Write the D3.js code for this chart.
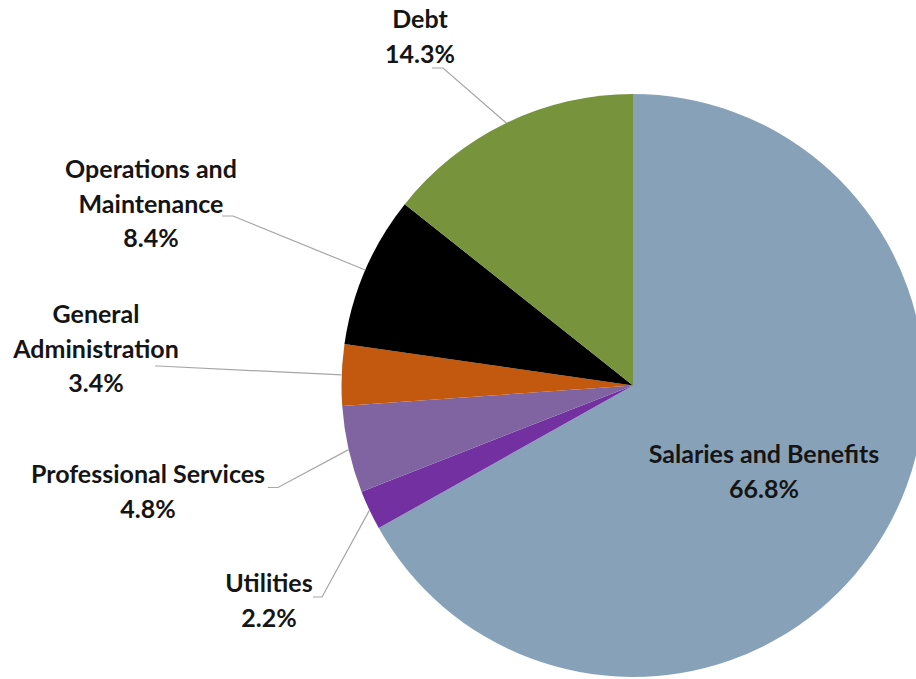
<!DOCTYPE html>
<html>
<head>
<meta charset="utf-8">
<script src="https://cdn.jsdelivr.net/npm/d3@7"></script>
<style>
  html, body { margin: 0; padding: 0; background: #ffffff; }
  svg { display: block; }
  text { font-family: Lato, "Open Sans", sans-serif; font-weight: 700; fill: #151515; }
</style>
</head>
<body>
<svg id="chart" width="916" height="679"></svg>
<script>
// ---- data ----
const categories = ["Salaries and Benefits", "Utilities", "Professional Services", "General Administration", "Operations and Maintenance", "Debt"];
const values = [66.8, 2.2, 4.8, 3.4, 8.4, 14.3];
const valueLabels = ["66.8%", "2.2%", "4.8%", "3.4%", "8.4%", "14.3%"];
const labelLines = [
  ["Salaries and Benefits"],
  ["Utilities"],
  ["Professional Services"],
  ["General", "Administration"],
  ["Operations and", "Maintenance"],
  ["Debt"]
];
const colors = ["#87A2B8", "#7330A0", "#8064A2", "#C2590E", "#000000", "#77933C"];

// ---- layout (positions, not data) ----
const W = 916, H = 679;
const cx = 633, cy = 385.5, R = 291.5;
const lineH = 34.5;
// label text: center x, baseline of first line; leader: elbow end (text side) and elbow start
const labelLayout = [
  { x: 764, y: 463, leader: null },
  { x: 269, y: 592, leader: { x0: 313, x1: 322, y: 597 } },
  { x: 148, y: 483, leader: { x0: 268, x1: 278, y: 487.5 } },
  { x: 96,  y: 323, leader: { x0: 155, x1: 158, y: 366 } },
  { x: 151, y: 178, leader: { x0: 222, x1: 233, y: 216 } },
  { x: 420, y: 28,  leader: { x0: 432, x1: 443, y: 68 } }
];

const svg = d3.select("#chart");
const data = categories.map((c, i) => ({ name: c, value: values[i], i }));

const pie = d3.pie().value(d => d.value).sort(null).startAngle(0).endAngle(2 * Math.PI);
const arcs = pie(data);
const arc = d3.arc().innerRadius(0).outerRadius(R);

const g = svg.append("g").attr("transform", `translate(${cx},${cy})`);
g.selectAll("path.slice")
  .data(arcs)
  .join("path")
  .attr("class", "slice")
  .attr("d", arc)
  .attr("fill", d => colors[d.data.i]);

// leader lines
const edgePoint = a => {
  const m = (a.startAngle + a.endAngle) / 2;
  return [cx + R * Math.sin(m), cy - R * Math.cos(m)];
};
arcs.forEach(a => {
  const L = labelLayout[a.data.i].leader;
  if (!L) return;
  const [ex, ey] = edgePoint(a);
  svg.append("polyline")
    .attr("points", `${L.x0},${L.y} ${L.x1},${L.y} ${ex},${ey}`)
    .attr("fill", "none")
    .attr("stroke", "#a6a6a6")
    .attr("stroke-width", 1.2);
});

// labels
const fontSize = 25;
arcs.forEach(a => {
  const i = a.data.i;
  const p = labelLayout[i];
  const lines = labelLines[i].concat([valueLabels[i]]);
  const t = svg.append("text")
    .attr("text-anchor", "middle")
    .attr("font-size", fontSize);
  lines.forEach((s, k) => {
    t.append("tspan").attr("x", p.x).attr("y", p.y + k * lineH).text(s);
  });
});
</script>
</body>
</html>
